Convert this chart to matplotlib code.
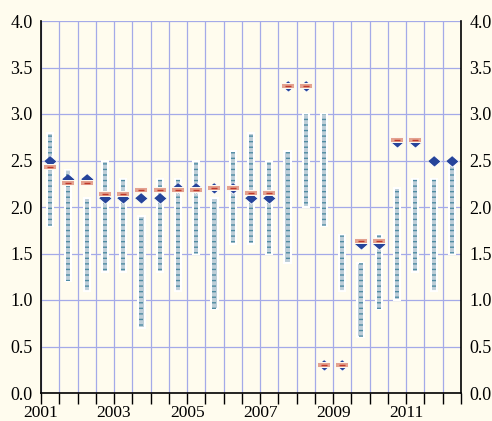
import matplotlib.pyplot as plt
import numpy as np
from matplotlib.ticker import MultipleLocator, FuncFormatter

plt.rcParams['font.family'] = ['Liberation Serif', 'DejaVu Serif']
plt.rcParams['hatch.linewidth'] = 1.0

# half-year ranges (low/high), blue diamond value, red mark value
low = [1.8, 1.2, 1.1, 1.3, 1.3, 0.7, 1.3, 1.1, 1.5, 0.9, 1.6, 1.6,
       1.5, 1.4, 2.0, 1.8, 1.1, 0.6, 0.9, 1.0, 1.3, 1.1, 1.5]
high = [2.8, 2.4, 2.1, 2.5, 2.3, 1.9, 2.3, 2.3, 2.5, 2.1, 2.6, 2.8,
        2.5, 2.6, 3.0, 3.0, 1.7, 1.4, 1.7, 2.2, 2.3, 2.3, 2.5]
blue = [2.5, 2.3, 2.3, 2.1, 2.1, 2.1, 2.1, 2.2, 2.2, 2.2, 2.2, 2.1,
        2.1, 3.3, 3.3, 0.3, 0.3, 1.6, 1.6, 2.7, 2.7, 2.5, 2.5]
red = [2.43, 2.26, 2.26, 2.14, 2.14, 2.18, 2.18, 2.18, 2.18, 2.2, 2.2, 2.15,
       2.15, 3.3, 3.3, 0.3, 0.3, 1.63, 1.63, 2.72, 2.72, np.nan, np.nan]
start_year = 2001

n = len(low)
x = start_year + 0.25 + 0.5 * np.arange(n)

bg = '#fffcee'
fig = plt.figure(figsize=(4.92, 4.21), dpi=100, facecolor=bg)
ax = fig.add_axes([41/492, 1-393/421, 420/492, 372/421])
ax.set_facecolor(bg)
ax.set_xlim(start_year, start_year + n*0.5)
ax.set_ylim(0, 4)
ax.xaxis.set_major_locator(MultipleLocator(0.5))
ax.yaxis.set_major_locator(MultipleLocator(0.5))
ax.grid(color='#a4aae8', lw=0.9)
ax.set_axisbelow(True)

h = np.array(high) - np.array(low)
ax.bar(x, h, bottom=low, width=0.17, color='#bccdd8', edgecolor='white', lw=1.5, zorder=2)
ax.bar(x, h, bottom=low, width=0.11, color='none', edgecolor='#4f8ca3', lw=0, hatch='---', zorder=3)

diamond = [(0, 0.85), (1, 0), (0, -0.85), (-1, 0)]
ax.plot(x, blue, ls='none', marker=diamond, ms=9.5, color='#26449a', mec='white', mew=0.6, zorder=4)

halo = [(-1, -0.5), (1, -0.5), (1, 0.5), (-1, 0.5)]
box = [(-1, -0.3), (1, -0.3), (1, 0.3), (-1, 0.3)]
ax.plot(x, red, ls='none', marker=halo, ms=10, color='#fdf8f0', mew=0, zorder=5)
ax.plot(x, red, ls='none', marker=box, ms=8, color='#e4a28f', mew=0, zorder=6)
ax.plot(x, red, ls='none', marker='_', ms=4, color='#c0392b', mew=1, zorder=7)

def year_fmt(v, pos):
    if abs(v - round(v)) < 1e-6 and int(round(v)) % 2 == 1:
        return str(int(round(v)))
    return ''
ax.xaxis.set_major_formatter(FuncFormatter(year_fmt))
ax.yaxis.set_major_formatter(FuncFormatter(lambda v, p: f'{v:.1f}'))

ax.tick_params(axis='x', length=8, width=1, color='black', labelsize=12.5, pad=0.5)
ax.tick_params(axis='y', length=0, labelsize=13, pad=6, labelright=True)
ax.spines['top'].set_visible(False)
for s in ['left', 'right', 'bottom']:
    ax.spines[s].set_color('black')
    ax.spines[s].set_linewidth(1.2)

fig.savefig('out.png', dpi=100, facecolor=bg)
